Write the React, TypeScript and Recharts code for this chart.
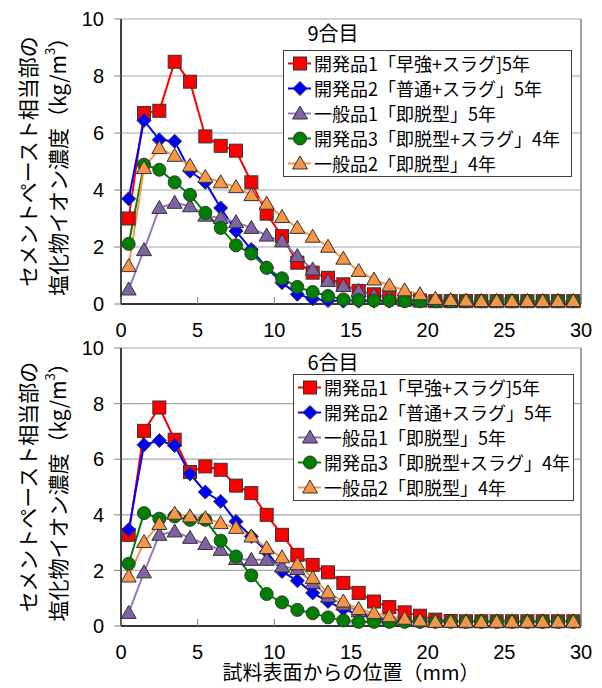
import React from 'react';
import { CartesianGrid, Line, LineChart, ReferenceLine, XAxis, YAxis } from 'recharts';

// distance from specimen surface (mm)
const positions = [
  0.5, 1.5, 2.5, 3.5, 4.5, 5.5, 6.5, 7.5, 8.5, 9.5, 10.5, 11.5, 12.5, 13.5, 14.5,
  15.5, 16.5, 17.5, 18.5, 19.5, 20.5, 21.5, 22.5, 23.5, 24.5, 25.5, 26.5, 27.5, 28.5, 29.5,
];
const xTicks = [0, 5, 10, 15, 20, 25, 30];
const yTicks = [0, 2, 4, 6, 8, 10];

const seriesNames = [
  '開発品1「早強+スラグ]5年',
  '開発品2「普通+スラグ」5年',
  '一般品1「即脱型」5年',
  '開発品3「即脱型+スラグ」4年',
  '一般品2「即脱型」4年',
];

// 9合目
const g9Dev1 = [3.0, 6.7, 6.78, 8.5, 7.8, 5.88, 5.55, 5.38, 4.27, 3.17, 2.38, 1.45, 1.1, 0.92, 0.69, 0.46, 0.34, 0.22, 0.15, 0.12, 0.1, 0.1, 0.1, 0.1, 0.1, 0.1, 0.1, 0.1, 0.1, 0.1];
const g9Dev2 = [3.69, 6.44, 5.76, 5.71, 4.66, 4.27, 3.37, 2.56, 1.91, 1.27, 0.75, 0.34, 0.18, 0.12, 0.1, 0.1, 0.1, 0.1, 0.1, 0.1, 0.1, 0.1, 0.1, 0.1, 0.1, 0.1, 0.1, 0.1, 0.1, 0.1];
const g9Gen1 = [0.51, 1.89, 3.37, 3.55, 3.43, 3.1, 3.02, 2.87, 2.67, 2.4, 2.2, 1.68, 1.21, 0.81, 0.63, 0.46, 0.3, 0.22, 0.15, 0.12, 0.1, 0.1, 0.1, 0.1, 0.1, 0.1, 0.1, 0.1, 0.1, 0.1];
const g9Dev3 = [2.11, 4.89, 4.71, 4.27, 3.83, 3.2, 2.67, 2.06, 1.77, 1.27, 0.9, 0.6, 0.42, 0.28, 0.16, 0.14, 0.12, 0.12, 0.1, 0.1, 0.1, 0.1, 0.1, 0.1, 0.1, 0.1, 0.1, 0.1, 0.1, 0.1];
const g9Gen2 = [1.33, 4.77, 5.47, 5.2, 4.85, 4.46, 4.27, 4.1, 3.82, 3.52, 3.05, 2.67, 2.36, 2.01, 1.59, 1.16, 0.86, 0.65, 0.48, 0.34, 0.18, 0.14, 0.12, 0.1, 0.1, 0.1, 0.1, 0.1, 0.1, 0.1];

// 6合目
const g6Dev1 = [3.28, 7.02, 7.86, 6.7, 5.54, 5.74, 5.62, 5.05, 4.78, 4.0, 3.28, 2.56, 2.2, 1.93, 1.55, 1.19, 0.88, 0.68, 0.49, 0.37, 0.23, 0.18, 0.17, 0.17, 0.17, 0.17, 0.17, 0.17, 0.17, 0.17];
const g6Dev2 = [3.46, 6.52, 6.67, 6.49, 5.47, 4.82, 4.48, 3.76, 3.22, 2.68, 1.96, 1.63, 1.19, 0.88, 0.61, 0.41, 0.3, 0.2, 0.17, 0.17, 0.17, 0.17, 0.17, 0.17, 0.17, 0.17, 0.17, 0.17, 0.17, 0.17];
const g6Gen1 = [0.47, 1.93, 3.28, 3.4, 3.17, 2.95, 2.74, 2.41, 2.38, 2.38, 2.14, 2.05, 1.55, 1.06, 0.77, 0.53, 0.35, 0.26, 0.2, 0.17, 0.17, 0.17, 0.17, 0.17, 0.17, 0.17, 0.17, 0.17, 0.17, 0.17];
const g6Dev3 = [2.24, 4.06, 3.86, 3.94, 3.82, 3.82, 3.07, 2.5, 1.82, 1.15, 0.85, 0.58, 0.46, 0.31, 0.2, 0.15, 0.15, 0.15, 0.15, 0.15, 0.15, 0.15, 0.15, 0.15, 0.15, 0.15, 0.15, 0.15, 0.15, 0.15];
const g6Gen2 = [1.78, 3.02, 3.67, 4.04, 3.94, 3.88, 3.7, 3.53, 3.22, 2.8, 2.47, 2.22, 1.73, 1.21, 0.88, 0.61, 0.47, 0.35, 0.26, 0.2, 0.15, 0.15, 0.15, 0.15, 0.15, 0.15, 0.15, 0.15, 0.15, 0.15];

type Shape = 'square' | 'diamond' | 'triangle' | 'circle';

const styles: { color: string; line: string; shape: Shape }[] = [
  { color: '#FF0000', line: '#FF0000', shape: 'square' },
  { color: '#0000FF', line: '#0000FF', shape: 'diamond' },
  { color: '#8064A2', line: '#8E7CC3', shape: 'triangle' },
  { color: '#008000', line: '#008000', shape: 'circle' },
  { color: '#F79646', line: '#F79646', shape: 'triangle' },
];

const JP = '"Noto Sans CJK JP", sans-serif';
const NUM = '"Liberation Sans", Arial, sans-serif';

const Marker = ({ cx, cy, shape, fill }: { cx: number; cy: number; shape: Shape; fill: string }) => {
  const stroke = '#333';
  if (shape === 'square')
    return <rect x={cx - 6.5} y={cy - 6.5} width={13} height={13} fill={fill} stroke={stroke} strokeWidth={1} />;
  if (shape === 'diamond')
    return (
      <polygon
        points={`${cx},${cy - 7} ${cx + 7},${cy} ${cx},${cy + 7} ${cx - 7},${cy}`}
        fill={fill}
        stroke={stroke}
        strokeWidth={1}
      />
    );
  if (shape === 'triangle')
    return (
      <polygon
        points={`${cx},${cy - 7.5} ${cx + 7.5},${cy + 5.5} ${cx - 7.5},${cy + 5.5}`}
        fill={fill}
        stroke={stroke}
        strokeWidth={1}
      />
    );
  return <circle cx={cx} cy={cy} r={6.5} fill={fill} stroke={stroke} strokeWidth={1} />;
};

const XTick = (props: any) => {
  const { x, y, payload } = props;
  return (
    <g>
      <line x1={x} x2={x} y1={y} y2={y - 7} stroke="#808080" />
      <text x={x} y={y + 33} textAnchor="middle" fontSize={20} fontFamily={NUM} fill="#000">
        {payload.value}
      </text>
    </g>
  );
};

const LegendBox = ({ left, top, width, rowH }: { left: number; top: number; width: number; rowH: number }) => (
  <div
    style={{
      position: 'absolute',
      left,
      top,
      width,
      background: '#fff',
      border: '1px solid #404040',
      boxSizing: 'border-box',
      fontFamily: JP,
      fontSize: 18,
      color: '#000',
    }}
  >
    {seriesNames.map((name, i) => (
      <div key={name} style={{ display: 'flex', alignItems: 'center', height: rowH, whiteSpace: 'nowrap' }}>
        <svg width={30} height={rowH} style={{ flex: 'none' }}>
          <line x1={4} x2={27} y1={rowH / 2} y2={rowH / 2} stroke={styles[i].line} strokeWidth={2} />
          <Marker cx={16} cy={rowH / 2} shape={styles[i].shape} fill={styles[i].color} />
        </svg>
        <span style={{ lineHeight: `${rowH}px` }}>{name}</span>
      </div>
    ))}
  </div>
);

const Panel = ({
  top,
  height,
  marginTop,
  xHeight,
  title,
  titleY,
  series,
  legend,
}: {
  top: number;
  height: number;
  marginTop: number;
  xHeight: number;
  title: string;
  titleY: number;
  series: number[][];
  legend: { left: number; top: number; width: number; rowH: number };
}) => {
  const data = positions.map((x, i) => {
    const row: Record<string, number> = { x };
    series.forEach((s, k) => (row[`s${k}`] = s[i]));
    return row;
  });
  const plotTop = marginTop;
  const plotH = height - marginTop - xHeight;
  const cy = plotTop + plotH / 2;
  return (
    <div style={{ position: 'absolute', left: 0, top, width: 602, height }}>
      <LineChart width={602} height={height} data={data} margin={{ top: marginTop, right: 21, bottom: 0, left: 0 }}>
        <CartesianGrid vertical={false} stroke="#A6A6A6" strokeWidth={1.2} />
        <XAxis
          dataKey="x"
          type="number"
          domain={[0, 30]}
          ticks={xTicks}
          height={xHeight}
          tickSize={0}
          tickMargin={0}
          tick={<XTick />}
          axisLine={{ stroke: '#000', strokeWidth: 1.5 }}
          tickLine={false}
          interval={0}
        />
        <YAxis
          type="number"
          domain={[0, 10]}
          ticks={yTicks}
          width={121}
          tickSize={7}
          tickMargin={10}
          axisLine={{ stroke: '#000', strokeWidth: 1.5 }}
          tickLine={{ stroke: '#808080' }}
          tick={{ fontSize: 20, fontFamily: NUM, fill: '#000' }}
          interval={0}
        />
        <ReferenceLine x={30} stroke="#A0A0A0" strokeWidth={2} />
        {series.map((_, k) => (
          <Line
            key={k}
            dataKey={`s${k}`}
            type="linear"
            stroke={styles[k].line}
            strokeWidth={2}
            isAnimationActive={false}
            dot={(p: any) => (
              <Marker key={`d${k}-${p.index}`} cx={p.cx} cy={p.cy} shape={styles[k].shape} fill={styles[k].color} />
            )}
            activeDot={false}
          />
        ))}
      </LineChart>
      <svg width={110} height={height} style={{ position: 'absolute', left: 0, top: 0 }}>
        <g fontFamily={JP} fontSize={21} fill="#000">
          <text x={27} y={cy} transform={`rotate(-90 27 ${cy})`} textAnchor="middle" dominantBaseline="central">
            セメントペースト相当部の
          </text>
          <text x={57} y={cy} transform={`rotate(-90 57 ${cy})`} textAnchor="middle" dominantBaseline="central">
            塩化物イオン濃度（kg/m<tspan dy={-8} fontSize={13}>3</tspan>
            <tspan dy={8}>）</tspan>
          </text>
        </g>
      </svg>
      <div
        style={{
          position: 'absolute',
          left: 283,
          width: 100,
          top: titleY - 14,
          height: 28,
          lineHeight: '28px',
          textAlign: 'center',
          fontFamily: JP,
          fontSize: 20,
          color: '#000',
          pointerEvents: 'none',
        }}
      >
        {title}
      </div>
      <LegendBox {...legend} />
    </div>
  );
};

export default function App() {
  return (
    <div style={{ position: 'absolute', left: 0, top: 0, width: 602, height: 688, background: '#fff', overflow: 'hidden' }}>
      <Panel
        top={0}
        height={344}
        marginTop={19}
        xHeight={40}
        title="9合目"
        titleY={33}
        series={[g9Dev1, g9Dev2, g9Gen1, g9Dev3, g9Gen2]}
        legend={{ left: 283, top: 50, width: 289, rowH: 25 }}
      />
      <Panel
        top={326}
        height={362}
        marginTop={22}
        xHeight={62}
        title="6合目"
        titleY={36}
        series={[g6Dev1, g6Dev2, g6Gen1, g6Dev3, g6Gen2]}
        legend={{ left: 293, top: 48, width: 281, rowH: 25 }}
      />
      <div
        style={{
          position: 'absolute',
          left: 121,
          width: 460,
          top: 660,
          height: 24,
          lineHeight: '24px',
          textAlign: 'center',
          fontFamily: JP,
          fontSize: 20,
          color: '#000',
        }}
      >
        試料表面からの位置（mm）
      </div>
    </div>
  );
}
